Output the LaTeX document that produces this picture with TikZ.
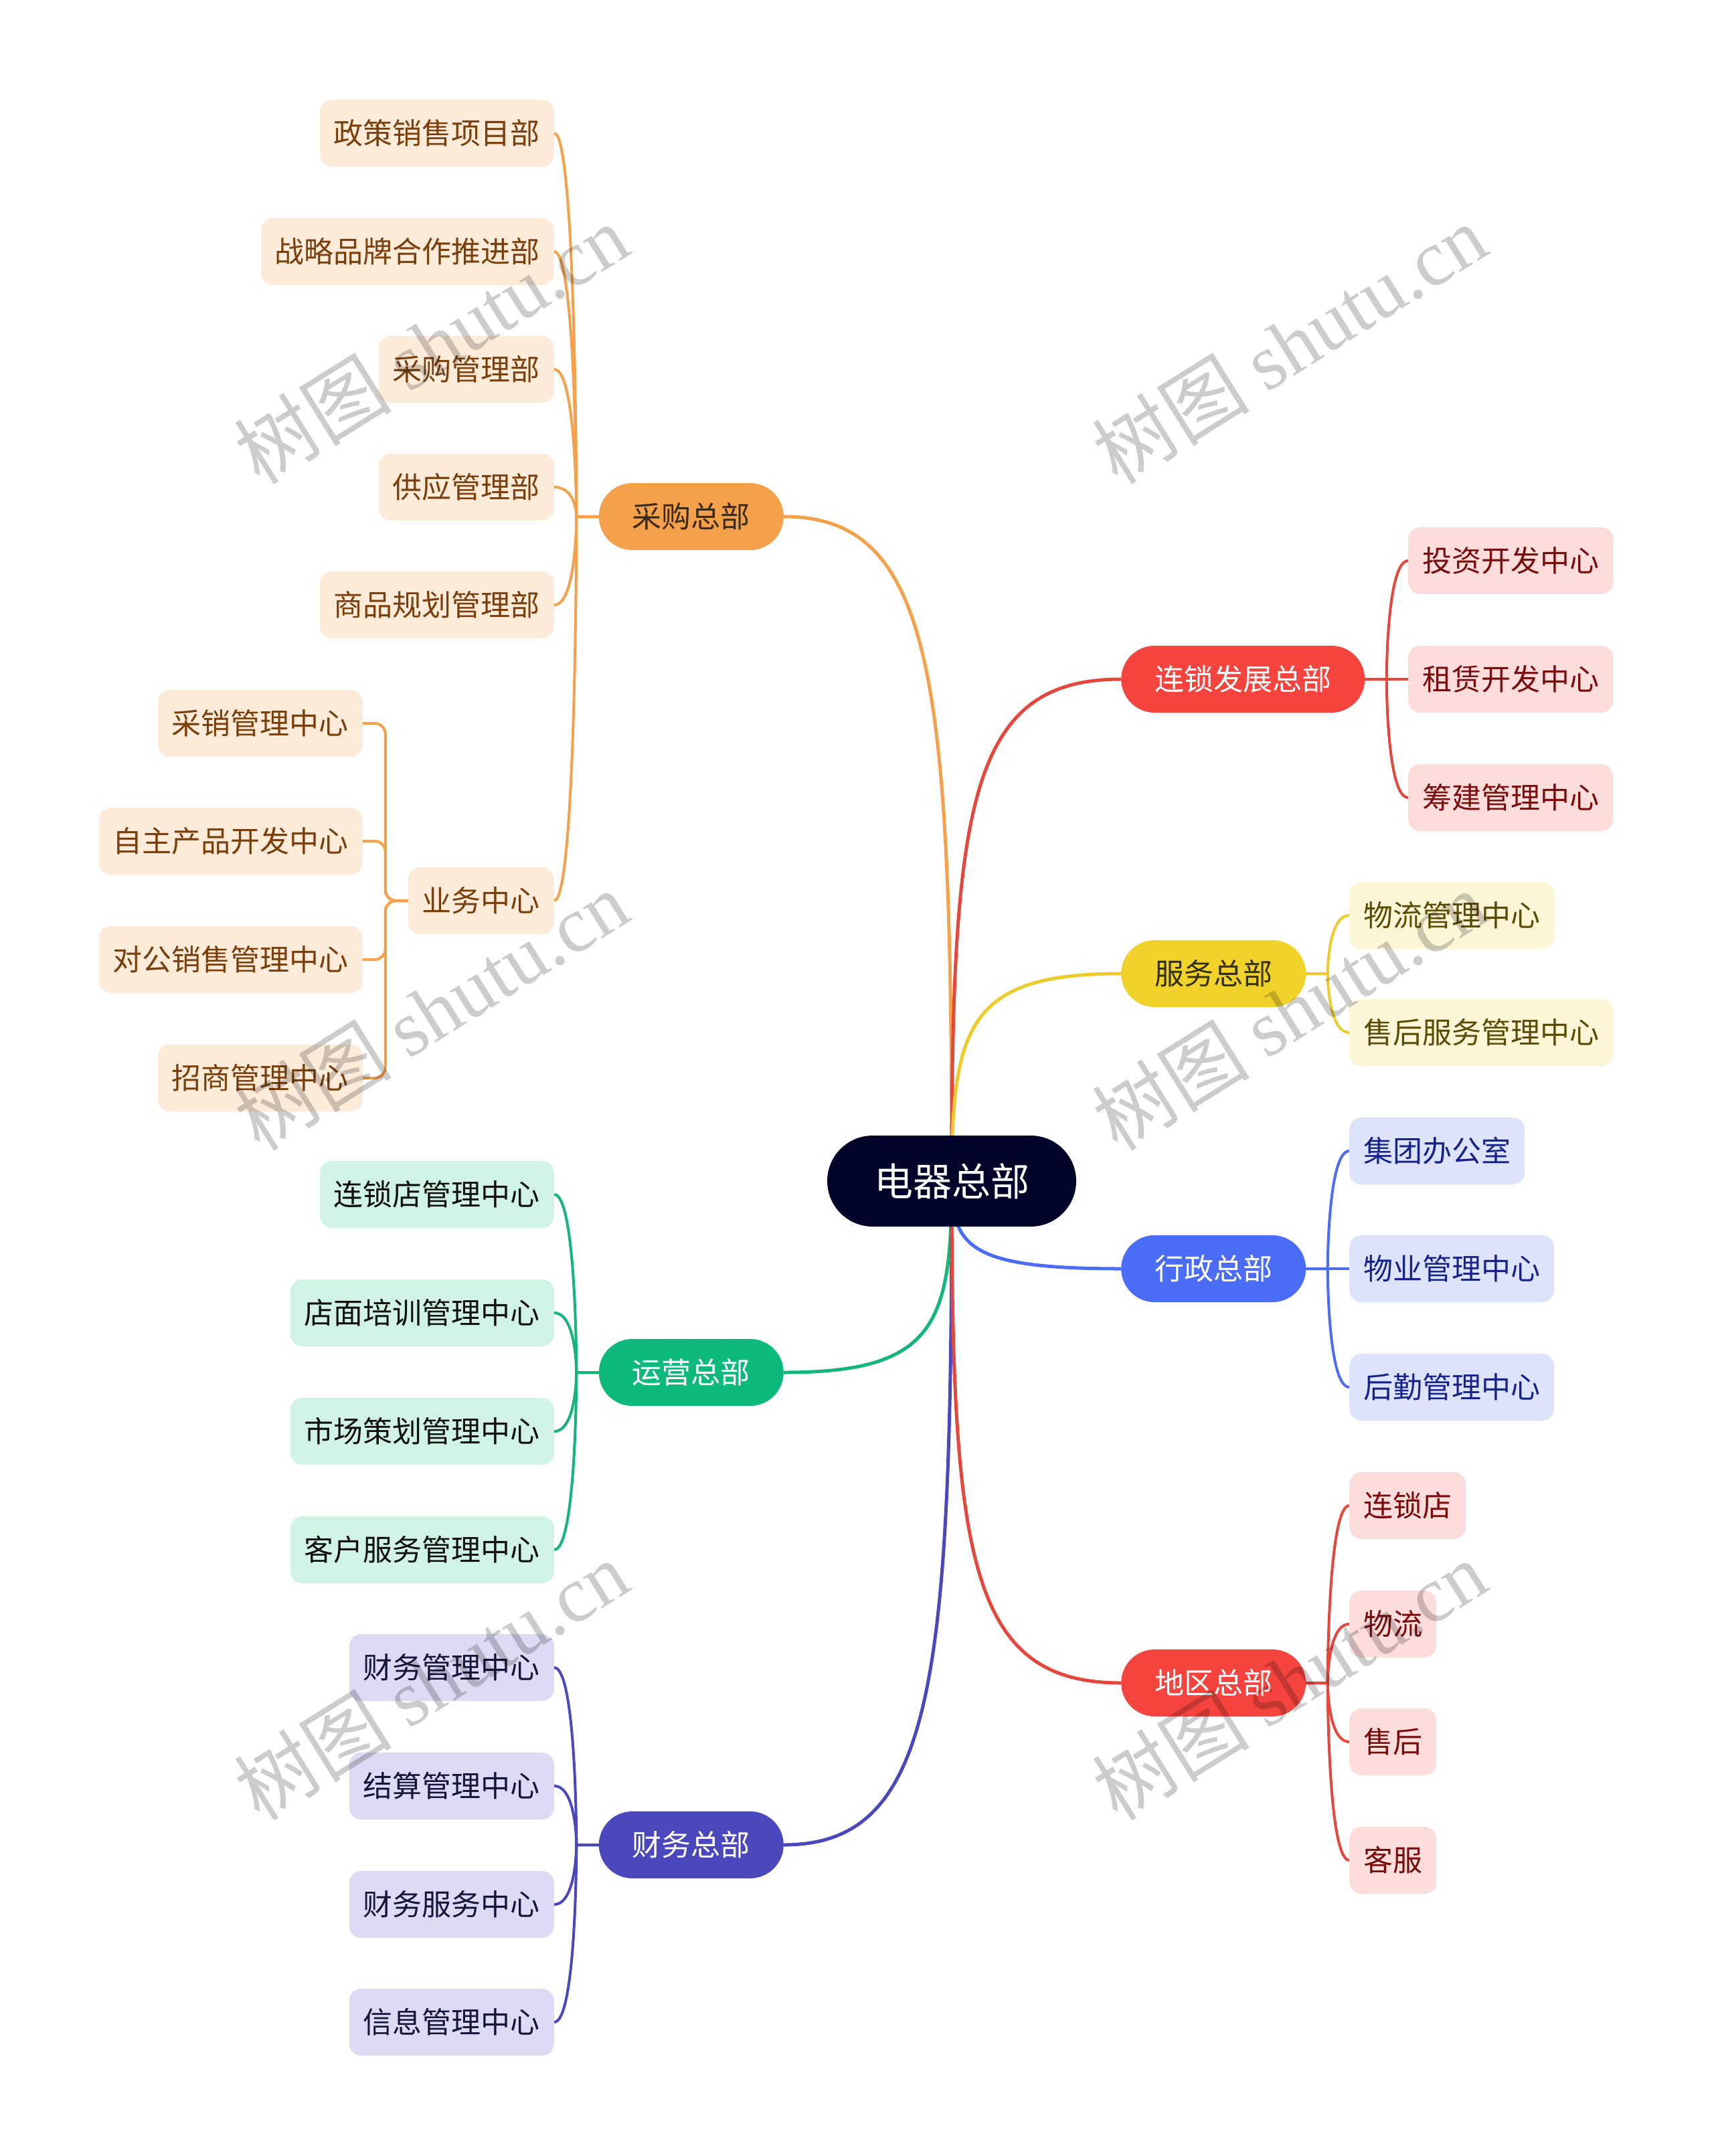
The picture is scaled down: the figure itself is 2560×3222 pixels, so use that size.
\documentclass[tikz,border=0pt]{standalone}
\usepackage{fontspec}
\setmainfont{Noto Sans CJK SC}
\newfontfamily\wmlatin{Liberation Serif}
\usetikzlibrary{calc,backgrounds}
\definecolor{rootc}{HTML}{03042A}
\definecolor{orgM}{HTML}{F5A04B}
\definecolor{orgL}{HTML}{FDEBDA}
\definecolor{orgT}{HTML}{7B3F0C}
\definecolor{orgTM}{HTML}{3A2A1A}
\definecolor{redM}{HTML}{F5443E}
\definecolor{redLine}{HTML}{E5473D}
\definecolor{redL}{HTML}{FDDCDC}
\definecolor{redT}{HTML}{7A0C0C}
\definecolor{yelM}{HTML}{F0D22B}
\definecolor{yelLine}{HTML}{EDCB2C}
\definecolor{yelL}{HTML}{FCF6D6}
\definecolor{yelT}{HTML}{5A4B05}
\definecolor{yelTM}{HTML}{33300A}
\definecolor{bluM}{HTML}{4A6CF7}
\definecolor{bluL}{HTML}{DCE3FB}
\definecolor{bluT}{HTML}{16238A}
\definecolor{grnM}{HTML}{0DBA7B}
\definecolor{grnLine}{HTML}{14B57C}
\definecolor{grnL}{HTML}{D0F3E6}
\definecolor{grnT}{HTML}{101010}
\definecolor{purM}{HTML}{4B48BE}
\definecolor{purL}{HTML}{DDDBF3}
\definecolor{purT}{HTML}{15153A}
\tikzset{
  base/.style={inner ysep=0pt, minimum height=100pt, font=\fontsize{44}{44}\selectfont},
  leaf/.style={base, rounded corners=18pt, inner xsep=21pt},
  mainnode/.style={base, rounded corners=50pt, inner xsep=50pt},
  rootnode/.style={rounded corners=68pt, minimum height=136pt, inner xsep=70pt, inner ysep=0pt,
    font=\fontsize{58}{58}\selectfont, fill=rootc, text=white},
  oleaf/.style={leaf, fill=orgL, text=orgT},
  rleaf/.style={leaf, fill=redL, text=redT},
  yleaf/.style={leaf, fill=yelL, text=yelT},
  bleaf/.style={leaf, fill=bluL, text=bluT},
  gleaf/.style={leaf, fill=grnL, text=grnT},
  pleaf/.style={leaf, fill=purL, text=purT},
  kid/.style={line width=4pt, to path={let \p1=(\tikztostart), \p2=(\tikztotarget) in
    .. controls ({(\x1+\x2)/2},\y1) and ({(\x1+\x2)/2},\y2) .. ({(\x1+\x2)/2},\y2) -- (\tikztotarget)}},
  brk/.style={line width=4pt, rounded corners=16pt, to path={let \p1=(\tikztostart), \p2=(\tikztotarget) in
    -- ({(\x1+\x2)/2},\y1) -- ({(\x1+\x2)/2},\y2) -- (\tikztotarget)}},
  trunk/.style={line width=5pt, to path={let \p1=(\tikztostart), \p2=(\tikztotarget) in
    .. controls (\x1,{\y1+0.75*(\y2-\y1)}) and ({\x2+0.9*(\x1-\x2)},\y2) .. (\tikztotarget)}},
  wm/.style={rotate=32, text=black, opacity=0.2, font=\fontsize{118}{118}\selectfont, inner sep=0pt}
}
\begin{document}
\begin{tikzpicture}[x=1pt,y=-1pt]
\useasboundingbox (0,0) rectangle (2560,3222);

% root
\node[rootnode] (root) at (1422,1765) {电器总部};

% main nodes
\node[mainnode, anchor=east, fill=orgM, text=orgTM] (cg) at (1171,772) {采购总部};
\node[mainnode, anchor=east, fill=grnM, text=white] (yy) at (1171,2051) {运营总部};
\node[mainnode, anchor=east, fill=purM, text=white] (cw) at (1171,2757) {财务总部};
\node[mainnode, anchor=west, fill=redM, text=white] (ls) at (1675,1015) {连锁发展总部};
\node[mainnode, anchor=west, fill=yelM, text=yelTM] (fw) at (1675,1455) {服务总部};
\node[mainnode, anchor=west, fill=bluM, text=white] (xz) at (1675,1896) {行政总部};
\node[mainnode, anchor=west, fill=redM, text=white] (dq) at (1675,2515) {地区总部};

% orange leaves
\node[oleaf, anchor=east] (cg1) at (828,199) {政策销售项目部};
\node[oleaf, anchor=east] (cg2) at (828,376) {战略品牌合作推进部};
\node[oleaf, anchor=east] (cg3) at (828,552) {采购管理部};
\node[oleaf, anchor=east] (cg4) at (828,728) {供应管理部};
\node[oleaf, anchor=east] (cg5) at (828,904) {商品规划管理部};
\node[oleaf, anchor=east] (yw) at (828,1346) {业务中心};
\node[oleaf, anchor=east] (yw1) at (542,1081) {采销管理中心};
\node[oleaf, anchor=east] (yw2) at (542,1257) {自主产品开发中心};
\node[oleaf, anchor=east] (yw3) at (542,1434) {对公销售管理中心};
\node[oleaf, anchor=east] (yw4) at (542,1611) {招商管理中心};

% green leaves
\node[gleaf, anchor=east] (yy1) at (828,1785) {连锁店管理中心};
\node[gleaf, anchor=east] (yy2) at (828,1962) {店面培训管理中心};
\node[gleaf, anchor=east] (yy3) at (828,2139) {市场策划管理中心};
\node[gleaf, anchor=east] (yy4) at (828,2316) {客户服务管理中心};

% purple leaves
\node[pleaf, anchor=east] (cw1) at (828,2492) {财务管理中心};
\node[pleaf, anchor=east] (cw2) at (828,2669) {结算管理中心};
\node[pleaf, anchor=east] (cw3) at (828,2846) {财务服务中心};
\node[pleaf, anchor=east] (cw4) at (828,3022) {信息管理中心};

% red leaves (chain)
\node[rleaf, anchor=west] (ls1) at (2104,838) {投资开发中心};
\node[rleaf, anchor=west] (ls2) at (2104,1015) {租赁开发中心};
\node[rleaf, anchor=west] (ls3) at (2104,1192) {筹建管理中心};

% yellow leaves
\node[yleaf, anchor=west] (fw1) at (2016,1368) {物流管理中心};
\node[yleaf, anchor=west] (fw2) at (2016,1543) {售后服务管理中心};

% blue leaves
\node[bleaf, anchor=west] (xz1) at (2016,1720) {集团办公室};
\node[bleaf, anchor=west] (xz2) at (2016,1896) {物业管理中心};
\node[bleaf, anchor=west] (xz3) at (2016,2073) {后勤管理中心};

% red leaves (region)
\node[rleaf, anchor=west] (dq1) at (2016,2250) {连锁店};
\node[rleaf, anchor=west] (dq2) at (2016,2427) {物流};
\node[rleaf, anchor=west] (dq3) at (2016,2603) {售后};
\node[rleaf, anchor=west] (dq4) at (2016,2780) {客服};

\begin{scope}[on background layer]
\fill[white] (0,0) rectangle (2560,3222);
% trunks
\draw[orgM, trunk] (root.center) to (cg.east);
\draw[grnLine, trunk] (root.center) to (yy.east);
\draw[purM, trunk] (root.center) to (cw.east);
\draw[redLine, trunk] (root.center) to (ls.west);
\draw[yelLine, trunk] (root.center) to (fw.west);
\draw[bluM, trunk] (root.center) to (xz.west);
\draw[redLine, trunk] (root.center) to (dq.west);
% kids
\foreach \k in {cg1,cg2,cg3,cg4,cg5,yw} \draw[orgM, kid] (\k.east) to (cg.west);
\foreach \k in {yw1,yw2,yw3,yw4} \draw[orgM, brk] (\k.east) to (yw.west);
\foreach \k in {yy1,yy2,yy3,yy4} \draw[grnLine, kid] (\k.east) to (yy.west);
\foreach \k in {cw1,cw2,cw3,cw4} \draw[purM, kid] (\k.east) to (cw.west);
\foreach \k in {ls1,ls2,ls3} \draw[redLine, kid] (\k.west) to (ls.east);
\foreach \k in {fw1,fw2} \draw[yelLine, kid] (\k.west) to (fw.east);
\foreach \k in {xz1,xz2,xz3} \draw[bluM, kid] (\k.west) to (xz.east);
\foreach \k in {dq1,dq2,dq3,dq4} \draw[redLine, kid] (\k.west) to (dq.east);
\end{scope}

% watermarks
\node[wm] (w1) at (644,514) {树图 {\wmlatin shutu.cn}};
\node[wm] (w2) at (1926,514) {树图 {\wmlatin shutu.cn}};
\node[wm] (w3) at (644,1510) {树图 {\wmlatin shutu.cn}};
\node[wm] (w4) at (1926,1510) {树图 {\wmlatin shutu.cn}};
\node[wm] (w5) at (644,2511) {树图 {\wmlatin shutu.cn}};
\node[wm] (w6) at (1926,2511) {树图 {\wmlatin shutu.cn}};
\end{tikzpicture}
\end{document}
